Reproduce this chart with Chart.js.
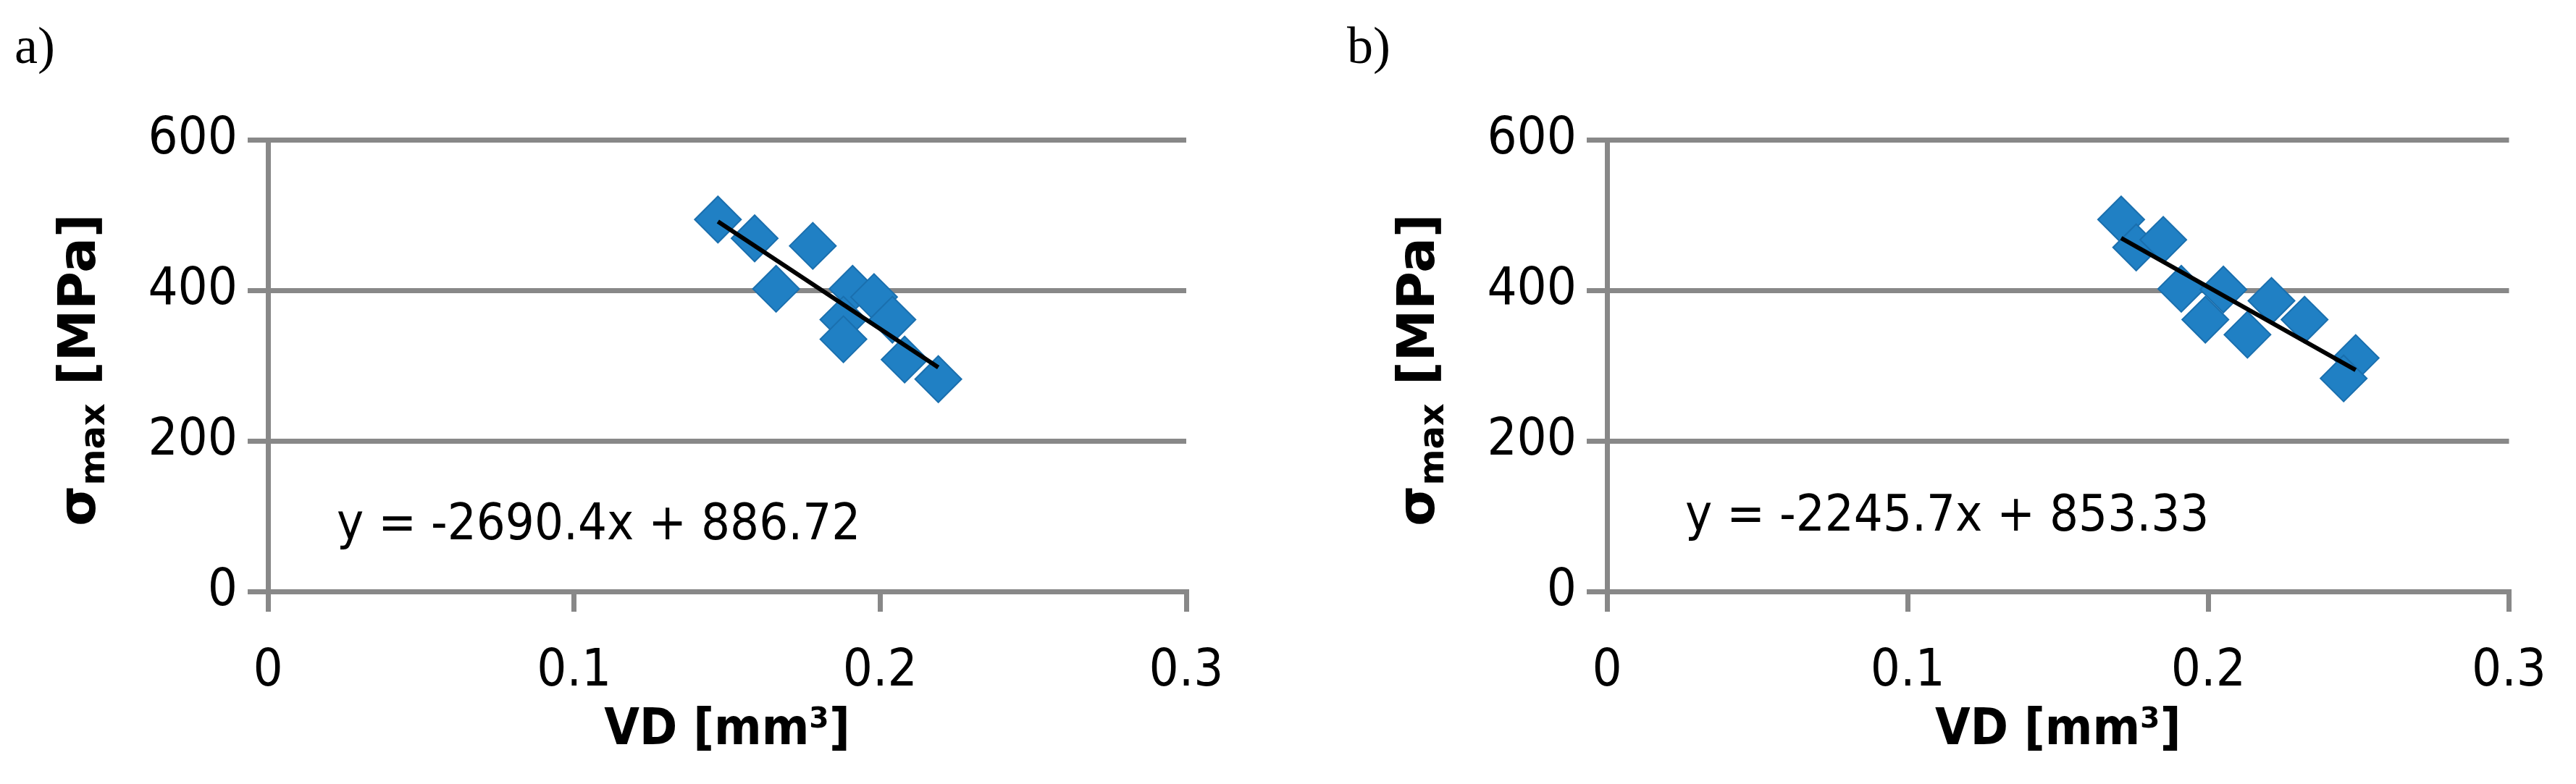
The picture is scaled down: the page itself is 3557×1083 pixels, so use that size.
<!DOCTYPE html>
<html>
<head>
<meta charset="utf-8">
<script src="https://cdn.jsdelivr.net/npm/chart.js@4"></script>
<style>
body{margin:0;background:#fff;width:3557px;height:1083px;position:relative;overflow:hidden;}
.box{position:absolute;top:0;width:1778px;height:1083px;}
.lab{position:absolute;top:22px;font-family:"Liberation Serif",serif;font-size:72px;}
</style>
</head>
<body>
<div class="box" style="left:0"><canvas id="chartA" width="1778" height="1083"></canvas></div>
<div class="box" style="left:1778px"><canvas id="chartB" width="1778" height="1083"></canvas></div>
<div class="lab" style="left:20px">a)</div>
<div class="lab" style="left:1860px">b)</div>
<script>
// data
var xTicks = [0, 0.1, 0.2, 0.3];
var yTicks = [0, 200, 400, 600];
var aVD = [0.147, 0.159, 0.178, 0.166, 0.191, 0.198, 0.204, 0.188, 0.188, 0.208, 0.219];
var aSigma = [494, 469, 459, 402, 402, 391, 361, 361, 335, 308, 282];
var aSlope = -2690.4, aIcpt = 886.72;
var bVD = [0.171, 0.176, 0.185, 0.191, 0.199, 0.205, 0.213, 0.221, 0.232, 0.249, 0.245];
var bSigma = [494, 457, 467, 402, 361, 401, 341, 386, 361, 310, 283];
var bSlope = -2245.7, bIcpt = 853.33;

var FONT = '"Liberation Sans Narrow","DejaVu Sans Condensed",sans-serif';

function makeChart(id, vd, sig, slope, icpt, eqText, opt){
    var pts = vd.map(function(v,i){ return {x:v, y:sig[i]}; });
    var xmin = Math.min.apply(null, vd), xmax = Math.max.apply(null, vd);
    var trend = [{x:xmin, y:slope*xmin+icpt}, {x:xmax, y:slope*xmax+icpt}];
    var labels = {
        id:'labels',
        afterDraw:function(c){
            var ctx = c.ctx;
            ctx.save();
            ctx.fillStyle = '#000';
            // equation
            ctx.font = '70px ' + FONT;
            ctx.textBaseline = 'middle';
            ctx.fillText(eqText, opt.eqX, opt.eqY);
            // x title
            ctx.font = 'bold 70px ' + FONT;
            ctx.textAlign = 'center';
            ctx.fillText('VD [mm\u00b3]', (c.chartArea.left+c.chartArea.right)/2, 1010);
            // y title rotated
            ctx.translate(opt.yTitleX, 511);
            ctx.rotate(-Math.PI/2);
            ctx.textAlign = 'left';
            ctx.font = 'bold 72px "DejaVu Sans",sans-serif';
            var w1 = ctx.measureText('\u03c3').width;
            ctx.font = 'bold 48px "DejaVu Sans",sans-serif';
            var w2 = ctx.measureText('max').width;
            ctx.font = 'bold 72px "DejaVu Sans",sans-serif';
            var w3 = ctx.measureText(' [MPa]').width;
            var x0 = -(w1+w2+w3)/2;
            ctx.fillText('\u03c3', x0, 0);
            ctx.font = 'bold 48px "DejaVu Sans",sans-serif';
            ctx.fillText('max', x0+w1, 20);
            ctx.font = 'bold 72px "DejaVu Sans",sans-serif';
            ctx.fillText(' [MPa]', x0+w1+w2, 0);
            ctx.restore();
        }
    };
    return new Chart(document.getElementById(id), {
        type:'scatter',
        data:{datasets:[
            {data:pts, pointStyle:'rectRot', pointRadius:32, pointHoverRadius:32,
             backgroundColor:'#2080c4', borderColor:'#1a6fae', borderWidth:2, order:2},
            {type:'line', data:trend, borderColor:'#000', borderWidth:6, pointRadius:0, order:1}
        ]},
        options:{
            responsive:false, animation:false,
            layout:{padding:{left:0, right:opt.padRight, top:193, bottom:0}},
            plugins:{legend:{display:false}, tooltip:{enabled:false}},
            scales:{
                x:{type:'linear', min:0, max:0.3,
                   afterBuildTicks:function(s){ s.ticks = xTicks.map(function(v){return {value:v};}); },
                   afterFit:function(s){ s.height = 266; },
                   grid:{drawOnChartArea:false, color:'#888', lineWidth:7, tickLength:28},
                   border:{color:'#888', width:7},
                   ticks:{font:{family:FONT, size:72}, color:'#000', padding:40}},
                y:{min:0, max:600,
                   afterBuildTicks:function(s){ s.ticks = yTicks.map(function(v){return {value:v};}); },
                   afterFit:function(s){ s.width = opt.yWidth; },
                   grid:{color:'#888', lineWidth:7, tickLength:28},
                   border:{color:'#888', width:7},
                   ticks:{font:{family:FONT, size:72}, color:'#000', padding:14}}
            }
        },
        plugins:[labels]
    });
}

makeChart('chartA', aVD, aSigma, aSlope, aIcpt, 'y = -2690.4x + 886.72',
    {padRight:140, yWidth:370, eqX:465, eqY:727, yTitleX:112});
makeChart('chartB', bVD, bSigma, bSlope, bIcpt, 'y = -2245.7x + 853.33',
    {padRight:67, yWidth:441, eqX:549, eqY:715, yTitleX:183});
</script>
</body>
</html>
